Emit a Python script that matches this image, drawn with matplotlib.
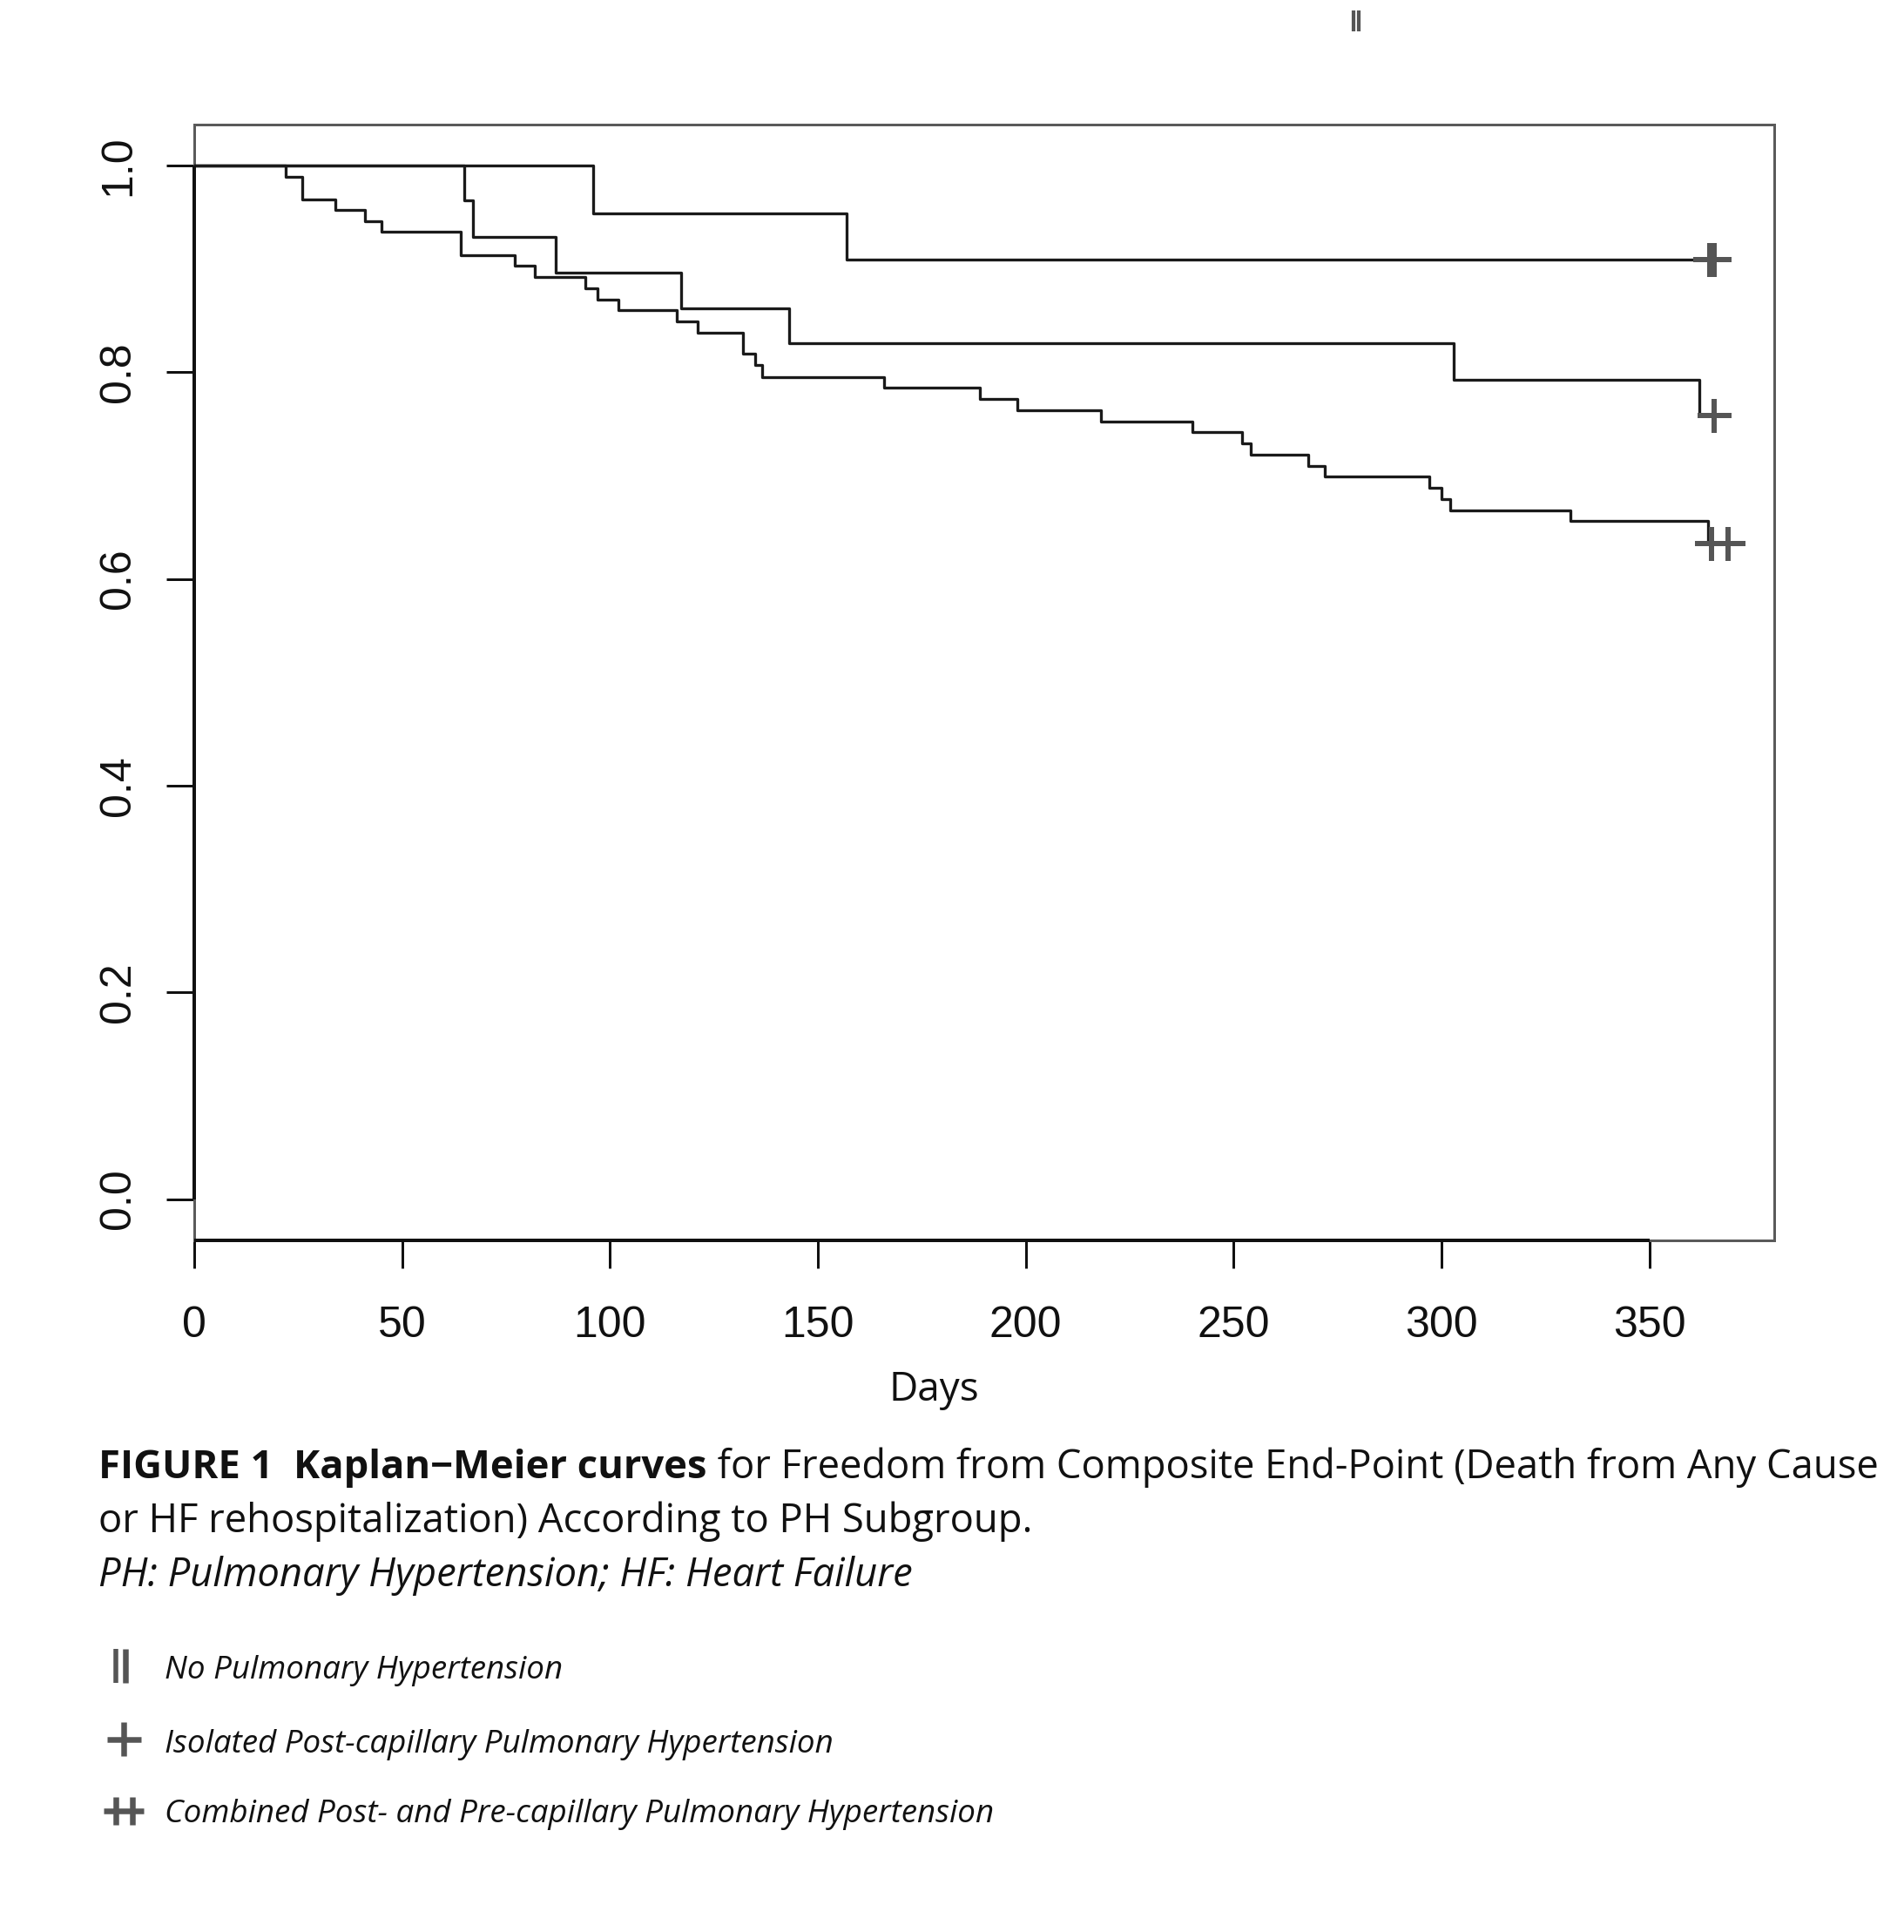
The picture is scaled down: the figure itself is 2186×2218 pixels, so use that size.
import matplotlib
matplotlib.use("Agg")
import matplotlib.pyplot as plt
from matplotlib.lines import Line2D

# ---------------- data ----------------
# No Pulmonary Hypertension
times_no_ph = [0, 96, 157]
surv_no_ph = [1.0, 0.954, 0.909]
cens_no_ph = [364.5, 365.5]

# Isolated Post-capillary PH
times_ipc = [0, 65, 67, 87, 117, 143, 303, 362]
surv_ipc = [1.0, 0.966, 0.931, 0.896, 0.862, 0.828, 0.793, 0.758]
cens_ipc = [365.5]

# Combined Post- and Pre-capillary PH
times_cpc = [0, 22, 26, 34, 41, 45, 64, 77, 82, 94, 97, 102, 116, 121, 132, 135,
             136.5, 166, 189, 198, 218, 240, 252, 254, 268, 272, 297, 300, 302,
             331, 364]
surv_cpc = [1.0, 0.989, 0.967, 0.957, 0.946, 0.936, 0.913, 0.903, 0.892, 0.881,
            0.870, 0.860, 0.849, 0.838, 0.818, 0.807, 0.795, 0.785, 0.774, 0.763,
            0.752, 0.742, 0.731, 0.720, 0.709, 0.699, 0.688, 0.677, 0.666, 0.656,
            0.634]
cens_cpc = [365, 369]

x_ticks = [0, 50, 100, 150, 200, 250, 300, 350]
y_ticks = [0.0, 0.2, 0.4, 0.6, 0.8, 1.0]
y_ticklabels = ["0.0", "0.2", "0.4", "0.6", "0.8", "1.0"]
x_label = "Days"

caption_bold = "FIGURE 1  Kaplan\u2212Meier curves"
caption_rest = " for Freedom from Composite End-Point (Death from Any Cause"
caption_line2 = "or HF rehospitalization) According to PH Subgroup."
caption_line3 = "PH: Pulmonary Hypertension; HF: Heart Failure"
legend_labels = ["No Pulmonary Hypertension",
                 "Isolated Post-capillary Pulmonary Hypertension",
                 "Combined Post- and Pre-capillary Pulmonary Hypertension"]

# ---------------- layout helpers ----------------
W, H = 2186, 2218
DPI = 100
def fx(x): return x / W
def fy(y): return 1 - y / H
def pt(px): return px * 72 / DPI

fig = plt.figure(figsize=(W / DPI, H / DPI), dpi=DPI)
fig.patch.set_facecolor("white")

L, R, T, B = 223, 2037, 142.5, 1424
ax = fig.add_axes([fx(L), fy(B), (R - L) / W, (B - T) / H])
ax.set_xlim(0, 380)
ax.set_ylim(-0.04, 1.04)

curve_col = "#1a1a1a"
mark_col = "#555555"
lw_curve = pt(3.3)

def draw_curve(t, s, c):
    xs = list(t) + [max(c)]
    ys = list(s) + [s[-1]]
    ax.step(xs, ys, where="post", color=curve_col, lw=lw_curve, zorder=3)
    ax.plot(c, [s[-1]] * len(c), linestyle="none", marker="+",
            ms=pt(39), mew=pt(6), color=mark_col, zorder=4)

draw_curve(times_no_ph, surv_no_ph, cens_no_ph)
draw_curve(times_ipc, surv_ipc, cens_ipc)
draw_curve(times_cpc, surv_cpc, cens_cpc)

# box
for s in ax.spines.values():
    s.set_color("#5a5a5a")
    s.set_linewidth(pt(3))

# R-style axis lines (from first to last tick)
ax.plot([0, 0], [0, 1], color="#111111", lw=pt(4), clip_on=False, zorder=5,
        solid_capstyle="butt")
ax.plot([0, 350], [-0.04, -0.04], color="#111111", lw=pt(4), clip_on=False,
        zorder=5, solid_capstyle="butt")

tick_font = dict(family=["Liberation Sans", "DejaVu Sans"], size=36, color="#111111")
ax.set_xticks(x_ticks)
ax.set_xticklabels([str(v) for v in x_ticks], fontdict=tick_font)
ax.set_yticks(y_ticks)
ax.set_yticklabels(y_ticklabels, fontdict=tick_font, rotation=90, va="center")
ax.tick_params(axis="x", direction="out", length=pt(32), width=pt(3),
               color="#111111", pad=31)
ax.tick_params(axis="y", direction="out", length=pt(32), width=pt(3),
               color="#111111", pad=23)

fig.text(fx(1072), fy(1608), x_label, ha="center", va="baseline",
         family=["Open Sans", "DejaVu Sans"], size=33, color="#111111")

# artifact mark at top
for xa, xb in [(1551.7, 1555.3), (1558, 1562.3)]:
    xc = (xa + xb) / 2
    fig.add_artist(Line2D([fx(xc), fx(xc)], [fy(11.7), fy(35.7)],
                          transform=fig.transFigure, color=mark_col,
                          lw=pt(4.2), solid_capstyle="butt"))

# caption
cap_font = ["Open Sans", "DejaVu Sans"]
txt_col = "#111111"
CAP = 32.7
tb = fig.text(fx(113), fy(1697), caption_bold, ha="left", va="baseline",
              family=cap_font, weight="bold", size=CAP, color=txt_col)
fig.canvas.draw()
bb = tb.get_window_extent(renderer=fig.canvas.get_renderer())
fig.text(bb.x1 / W, fy(1697), caption_rest, ha="left", va="baseline",
         family=cap_font, size=CAP, color=txt_col)
fig.text(fx(113), fy(1759), caption_line2, ha="left", va="baseline",
         family=cap_font, size=CAP, color=txt_col)
fig.text(fx(113), fy(1821), caption_line3, ha="left", va="baseline",
         family=cap_font, style="italic", size=CAP, color=txt_col)

# legend
def seg(x0, y0, x1, y1, w=6.5):
    fig.add_artist(Line2D([fx(x0), fx(x1)], [fy(y0), fy(y1)],
                          transform=fig.transFigure, color=mark_col,
                          lw=pt(w), solid_capstyle="butt"))

seg(133.2, 1893, 133.2, 1932, 5.5)
seg(144.0, 1893, 144.0, 1932, 6.5)
seg(122.7, 1996.7, 161.7, 1996.7)
seg(141.7, 1977, 141.7, 2016)
seg(119.3, 2079, 165, 2079)
seg(133.3, 2062.7, 133.3, 2095)
seg(152.3, 2062.7, 152.3, 2095)

for lab, yb in zip(legend_labels, [1927, 2012, 2092]):
    fig.text(fx(189), fy(yb), lab, ha="left", va="baseline",
             family=cap_font, style="italic", size=26.5, color=txt_col)

fig.savefig("out.png", dpi=DPI, facecolor="white")
